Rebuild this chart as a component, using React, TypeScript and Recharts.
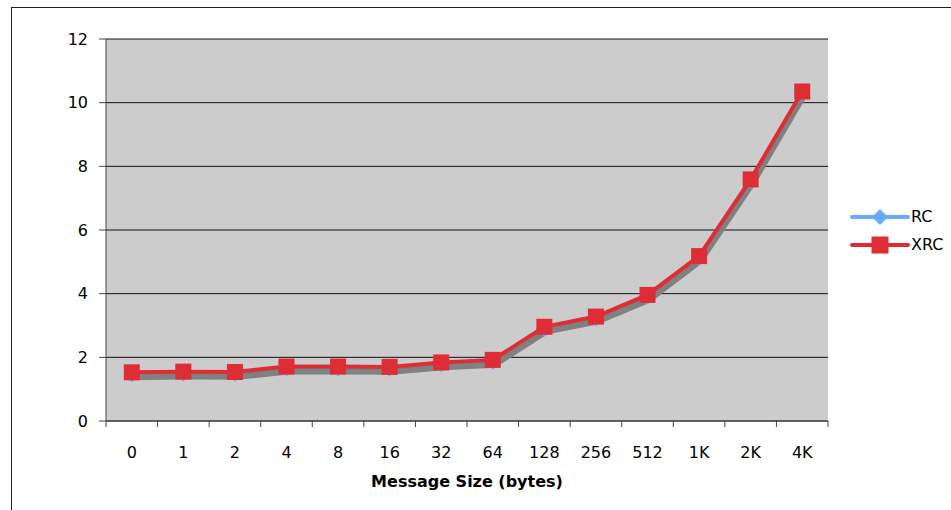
import React from 'react';
import { LineChart, Line, XAxis, YAxis, CartesianGrid, Label } from 'recharts';

const categories = ['0', '1', '2', '4', '8', '16', '32', '64', '128', '256', '512', '1K', '2K', '4K'];
const rcValues = [1.44, 1.46, 1.45, 1.62, 1.62, 1.61, 1.75, 1.83, 2.87, 3.19, 3.87, 5.1, 7.51, 10.27];
const xrcValues = [1.53, 1.55, 1.54, 1.71, 1.71, 1.7, 1.84, 1.92, 2.96, 3.28, 3.96, 5.18, 7.59, 10.35];
const yTicks = [0, 2, 4, 6, 8, 10, 12];
const seriesNames = ['RC', 'XRC'];
const xTitle = 'Message Size (bytes)';

const data = categories.map((c, i) => ({ size: c, RC: rcValues[i], XRC: xrcValues[i] }));

const FONT = '"DejaVu Sans", Verdana, sans-serif';
const RC_COLOR = '#66aaff';
const XRC_COLOR = '#de2d35';
const X_TICK_MARGIN = 26;

const XTick = (props: any) => {
  const { x, y, payload, index, visibleTicksCount } = props;
  const off = payload && payload.offset ? payload.offset : 0;
  const axisY = y - X_TICK_MARGIN;
  const isLast = index === visibleTicksCount - 1;
  return (
    <g>
      <line x1={x - off} x2={x - off} y1={axisY} y2={axisY + 6} stroke="#444" />
      {isLast && <line x1={x + off} x2={x + off} y1={axisY} y2={axisY + 6} stroke="#444" />}
      <text x={x} y={y} dy="0.71em" textAnchor="middle" fontSize={16} fontFamily={FONT} fill="#000">
        {payload.value}
      </text>
    </g>
  );
};

const SquareDot = (props: any) => {
  const { cx, cy, key } = props;
  if (cx == null || cy == null) return <g key={key} />;
  return <rect key={key} x={cx - 8} y={cy - 8} width={16} height={16} fill={XRC_COLOR} />;
};

const DiamondDot = (props: any) => {
  const { cx, cy, key } = props;
  if (cx == null || cy == null) return <g key={key} />;
  return <path key={key} d={`M${cx},${cy - 7}L${cx + 7},${cy}L${cx},${cy + 7}L${cx - 7},${cy}Z`} fill={RC_COLOR} />;
};

const LegendBox = () => (
  <div style={{ position: 'absolute', left: 850, top: 203, fontFamily: FONT, fontSize: 16, color: '#000' }}>
    {seriesNames.map((name) => {
      const color = name === 'RC' ? RC_COLOR : XRC_COLOR;
      return (
        <div key={name} style={{ display: 'flex', alignItems: 'center', height: 28 }}>
          <svg width={60} height={28} style={{ display: 'block' }}>
            <line x1={2} x2={58} y1={14} y2={14} stroke={color} strokeWidth={4} strokeLinecap="round" />
            {name === 'RC' ? (
              <path d="M30,6L38,14L30,22L22,14Z" fill={color} />
            ) : (
              <rect x={21.5} y={5.5} width={17} height={17} fill={color} />
            )}
          </svg>
          <span style={{ marginLeft: 1, lineHeight: '28px' }}>{name}</span>
        </div>
      );
    })}
  </div>
);

export default function App() {
  return (
    <div style={{ position: 'fixed', left: 0, top: 0, width: 951, height: 510, background: '#fff', overflow: 'hidden' }}>
      <style>{`.recharts-line { filter: drop-shadow(2px 3px 0px #808080); }`}</style>
      <div
        style={{
          position: 'absolute',
          left: 11,
          top: 7,
          width: 980,
          height: 540,
          border: '1px solid #222',
          boxSizing: 'border-box',
        }}
      />
      <div style={{ position: 'absolute', left: 0, top: 0 }}>
        <LineChart width={951} height={510} data={data} margin={{ top: 39, right: 123, bottom: 0, left: 0 }}>
          <CartesianGrid vertical={false} stroke="#111" fill="#cccccc" fillOpacity={1} />
          <XAxis
            dataKey="size"
            scale="band"
            height={89}
            interval={0}
            tickLine={false}
            tickSize={0}
            tickMargin={X_TICK_MARGIN}
            axisLine={{ stroke: '#444' }}
            tick={<XTick />}
          >
            <Label
              value={xTitle}
              position="insideBottom"
              offset={23}
              style={{ fontFamily: FONT, fontSize: 16, fontWeight: 'bold', fill: '#000' }}
            />
          </XAxis>
          <YAxis
            width={106}
            domain={[0, 12]}
            ticks={yTicks}
            interval={0}
            tickSize={7}
            tickMargin={11}
            axisLine={{ stroke: '#444' }}
            tickLine={{ stroke: '#444' }}
            tick={{ fontFamily: FONT, fontSize: 16, fill: '#000' }}
          />
          <Line
            dataKey="RC"
            name="RC"
            stroke={RC_COLOR}
            strokeWidth={4}
            dot={DiamondDot}
            activeDot={false}
            isAnimationActive={false}
          />
          <Line
            dataKey="XRC"
            name="XRC"
            stroke={XRC_COLOR}
            strokeWidth={4}
            dot={SquareDot}
            activeDot={false}
            isAnimationActive={false}
          />
        </LineChart>
      </div>
      <LegendBox />
    </div>
  );
}
